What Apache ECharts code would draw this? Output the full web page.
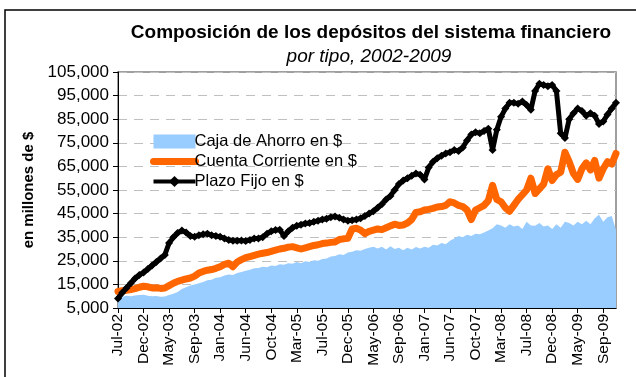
<!DOCTYPE html>
<html>
<head>
<meta charset="utf-8">
<script src="https://cdn.jsdelivr.net/npm/echarts@6/dist/echarts.min.js"></script>
<style>
  html, body { margin: 0; padding: 0; background: #fff; }
  #chart { width: 636px; height: 377px; }
</style>
</head>
<body>
<div id="chart"></div>
<script>
// Axis labels shown along the date axis (one every STEP observations)
const tickLabels = ["Jul-02","Dec-02","May-03","Sep-03","Jan-04","Jun-04","Oct-04","Mar-05",
  "Jul-05","Dec-05","May-06","Sep-06","Jan-07","Jun-07","Oct-07","Mar-08","Jul-08","Dec-08",
  "May-09","Sep-09"];
const STEP = 6;

// Deposits by type, millones de $
const cajaAhorro = [
  10000, 9800, 10200, 10000, 10300, 10500,
  10600, 10200, 10000, 10100, 9800, 9900,
  10500, 11000, 11800, 13000, 13800, 14500,
  15000, 15500, 16000, 16800, 17000, 17800,
  18000, 18800, 19200, 19000, 19800, 20300,
  20800, 21200, 21800, 22000, 22500, 22300,
  23000, 22800, 23500, 23300, 24000, 23800,
  24500, 24000, 24800, 24500, 25200, 25000,
  25800, 26000, 26800, 27000, 27800, 27500,
  28500, 28800, 29500, 29300, 30000, 30500,
  31000, 30200, 31000, 29800, 31200, 30000,
  30500, 29500, 30500, 29800, 30800, 30200,
  31000, 30500, 31800, 31500, 32500, 32000,
  33500, 34500, 35500, 35000, 36000, 35500,
  36500, 36200, 37000, 37800, 38800, 40500,
  40000, 39000, 40500, 39500, 40000, 38500,
  41500, 40000, 39800, 41000, 39500, 40000,
  38500, 40500, 39000, 41500, 41000, 40000,
  41500, 40500, 42000, 40500, 43000, 44500,
  41500, 43500, 44000, 38000
];
const cuentaCorriente = [
  12000, 12300, 12500, 12800, 13200, 13800,
  14200, 14000, 13500, 13600, 13300, 13500,
  14500, 15500, 16300, 16800, 17300, 17700,
  18500, 19800, 20500, 21000, 21300, 21800,
  22500, 23500, 24000, 22500, 24500, 25500,
  26300, 26800, 27300, 27800, 28200, 28500,
  29000, 29500, 30000, 30300, 30800, 31000,
  30500, 30000, 30500, 31000, 31500, 31800,
  32300, 32500, 32800, 33000, 34000, 34300,
  34500, 38500, 38800, 38000, 36500, 37500,
  38000, 38500, 38200, 39000, 39800, 40500,
  40000, 40200, 41000, 42500, 45500, 45800,
  46500, 46800, 47200, 47800, 48000, 48500,
  50000, 49500, 48500, 48000, 46500, 42500,
  46500, 47500, 48500, 50500, 57000, 51000,
  50000, 47500, 46000, 48500, 51000, 53000,
  55000, 60000, 53500, 55500, 57500, 64000,
  59000, 61500, 62500, 71000, 67000, 62000,
  59500, 64000, 66500, 63500, 67500, 60000,
  64000, 67000, 66000, 70500
];
const plazoFijo = [
  9000, 11500, 13500, 15500, 17500, 19000,
  20000, 21500, 23000, 24500, 26000, 27500,
  32500, 35000, 36800, 37800, 37000, 35500,
  35200, 35800, 36200, 36500, 35800, 35500,
  35200, 34500, 33800, 33500, 33500, 33600,
  33400, 33800, 34500, 34500, 35000, 36500,
  37500, 38000, 38200, 35500, 37500, 39000,
  39800, 40300, 40800, 41000, 41500, 42000,
  42500, 42800, 43500, 43800, 43200, 42500,
  42000, 42200, 42500, 43000, 44000, 45000,
  46000, 47500, 49000, 51000, 52500, 55000,
  57500, 59000, 60000, 61000, 62000, 61500,
  59500, 64500, 67000, 68500, 69500, 70500,
  71000, 72000, 71500, 73000, 76000, 78500,
  79500, 79000, 80000, 81000, 72000, 80500,
  86000, 89500, 92000, 92000, 91500, 92500,
  91000, 89000, 97000, 100000, 99500, 99000,
  99500, 97000, 79000, 77000, 85000, 87500,
  89500, 88500, 86500, 87500, 86500, 83000,
  84000, 87000, 89500, 92000
];

// One category per observation; only every STEP-th one carries a visible label
const categories = plazoFijo.map(function (_, i) {
  const k = Math.floor(i / STEP);
  const base = tickLabels[Math.min(k, tickLabels.length - 1)];
  return i % STEP === 0 && k < tickLabels.length ? base : base + "#" + i;
});
const showIdx = function (idx) { return idx % STEP === 0 && idx / STEP < tickLabels.length; };

const FONT = "Arial, 'Liberation Sans', sans-serif";
const chart = echarts.init(document.getElementById('chart'), null, { renderer: 'canvas' });

chart.setOption({
  animation: false,
  backgroundColor: '#ffffff',
  textStyle: { fontFamily: FONT },
  graphic: [
    { type: 'rect', silent: true, z: 100,
      shape: { x: 5, y: 10, width: 700, height: 500 },
      style: { fill: 'none', stroke: '#000000', lineWidth: 1.5 } },
    { type: 'text', x: 371, y: 33,
      style: { text: 'Composición de los depósitos del sistema financiero',
        font: 'bold 19px ' + FONT, fill: '#000', align: 'center', verticalAlign: 'middle' } },
    { type: 'text', x: 369, y: 57,
      style: { text: 'por tipo, 2002-2009',
        font: 'italic 19px ' + FONT, fill: '#000', align: 'center', verticalAlign: 'middle' } }
  ],
  grid: {
    left: 118, right: 20, top: 72, bottom: 69,
    show: true, borderColor: '#808080', borderWidth: 1.5, backgroundColor: 'transparent'
  },
  legend: {
    orient: 'vertical', left: 145, top: 128,
    itemWidth: 42, itemHeight: 14, itemGap: 3,
    textStyle: { fontSize: 16.5, color: '#000', fontFamily: FONT, padding: [0, 0, 0, -6] },
    data: [
      { name: 'Caja de Ahorro en $', icon: 'rect' },
      { name: 'Cuenta Corriente en $', itemStyle: { opacity: 0 },
        lineStyle: { width: 7, color: '#FF6600', cap: 'round' } },
      { name: 'Plazo Fijo en $', lineStyle: { width: 4, color: '#000000' } }
    ]
  },
  xAxis: {
    type: 'category', boundaryGap: false, data: categories,
    axisLine: { lineStyle: { color: '#000', width: 1 } },
    axisTick: { interval: showIdx, length: 5, lineStyle: { color: '#000' } },
    axisLabel: { interval: showIdx, rotate: 90, fontSize: 15.5, color: '#000', margin: 6, fontFamily: FONT },
    splitLine: { show: false }
  },
  yAxis: {
    type: 'value', min: 5000, max: 105000, interval: 10000,
    name: 'en millones de $', nameLocation: 'middle', nameGap: 80, nameRotate: 90,
    nameTextStyle: { fontSize: 15, fontWeight: 'bold', color: '#000', fontFamily: FONT },
    axisLine: { show: true, lineStyle: { color: '#000', width: 1 } },
    axisTick: { show: true, length: 5, lineStyle: { color: '#000' } },
    axisLabel: { fontSize: 17, color: '#000', margin: 9, fontFamily: FONT,
      formatter: function (v) { return v.toLocaleString('en-US'); } },
    splitLine: { show: true, lineStyle: { color: '#C0C0C0', type: [9, 7], width: 1 } }
  },
  series: [
    { name: 'Caja de Ahorro en $', type: 'line', data: cajaAhorro,
      symbol: 'none', color: '#99CCFF',
      lineStyle: { width: 0, color: '#99CCFF' },
      areaStyle: { color: '#99CCFF', opacity: 1 } },
    { name: 'Cuenta Corriente en $', type: 'line', data: cuentaCorriente,
      symbol: 'none', color: '#FF6600',
      lineStyle: { width: 7, color: '#FF6600', cap: 'round', join: 'round' } },
    { name: 'Plazo Fijo en $', type: 'line', data: plazoFijo,
      symbol: 'diamond', symbolSize: 8, showSymbol: true, showAllSymbol: true, color: '#000000',
      itemStyle: { color: '#000000' },
      lineStyle: { width: 5, color: '#000000', join: 'round' } }
  ]
});
</script>
</body>
</html>
